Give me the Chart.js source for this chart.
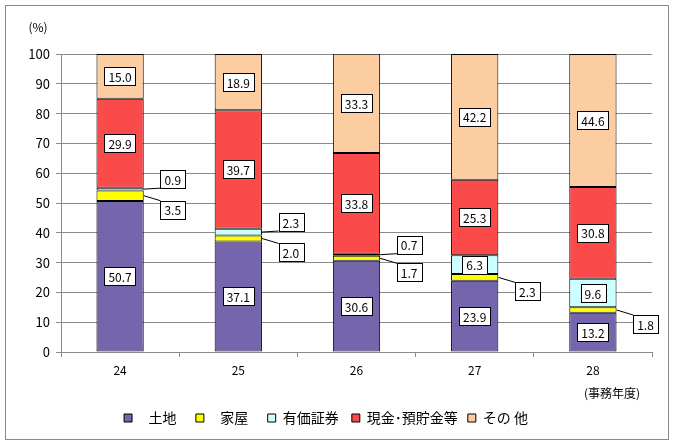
<!DOCTYPE html>
<html>
<head>
<meta charset="utf-8">
<script src="https://cdn.jsdelivr.net/npm/chart.js@4.4.1/dist/chart.umd.min.js"></script>
<style>
  body { margin: 0; background: #fff; }
  #wrap { width: 676px; height: 445px; }
</style>
</head>
<body>
<div id="wrap"><canvas id="c" width="676" height="445"></canvas></div>
<script>
// 事務年度
var years = ['24', '25', '26', '27', '28'];
var seriesNames = ['   土地   ', '   家屋   ', '有価証券 ', '現金･預貯金等', 'その 他'];
var land       = [50.7, 37.1, 30.6, 23.9, 13.2];
var house      = [3.5, 2.0, 1.7, 2.3, 1.8];
var securities = [0.9, 2.3, 0.7, 6.3, 9.6];
var cash       = [29.9, 39.7, 33.8, 25.3, 30.8];
var other      = [15.0, 18.9, 33.3, 42.2, 44.6];
var yTicks = [0, 10, 20, 30, 40, 50, 60, 70, 80, 90, 100];

var colors = ['#7565ad', '#ffff00', '#ccffff', '#fa4a4a', '#fdcda2'];
var font = '"Noto Sans CJK JP", "Liberation Sans", sans-serif';

// small values get a label outside the bar with a leader line
var outsideLimit = 3.6;
var outsideShift = [0, 14, -10, 0, 0];

var labelPlugin = {
  id: 'boxLabels',
  beforeDraw: function(chart) {
    var ctx = chart.ctx;
    ctx.save();
    ctx.strokeStyle = '#8a8a8a';
    ctx.lineWidth = 1;
    ctx.strokeRect(5.5, 5.5, 663, 434);
    ctx.fillStyle = '#000';
    ctx.font = '12px ' + font;
    ctx.textAlign = 'center';
    ctx.textBaseline = 'middle';
    ctx.fillText('(%)', 38, 27);
    ctx.fillText('(事務年度)', 612, 393);
    ctx.restore();
  },
  afterDatasetsDraw: function(chart) {
    var ctx = chart.ctx;
    ctx.save();
    ctx.font = '12px ' + font;
    ctx.textAlign = 'center';
    ctx.textBaseline = 'middle';
    chart.data.datasets.forEach(function(ds, di) {
      var meta = chart.getDatasetMeta(di);
      meta.data.forEach(function(bar, i) {
        var v = ds.data[i];
        var txt = v.toFixed(1);
        var cy = (bar.y + bar.base) / 2;
        var cx = bar.x;
        var w = ctx.measureText(txt).width + 8;
        var h = 18;
        if (v < outsideLimit) {
          var edge = bar.x + bar.width / 2;
          cx = edge + 29;
          var ly = cy + outsideShift[di];
          ctx.strokeStyle = '#000';
          ctx.lineWidth = 1;
          ctx.beginPath();
          ctx.moveTo(edge, cy);
          ctx.lineTo(cx - w / 2, ly + (outsideShift[di] > 0 ? -h / 2 : h / 2));
          ctx.stroke();
          cy = ly;
        }
        ctx.fillStyle = '#fff';
        ctx.fillRect(Math.round(cx - w / 2) + 0.5, Math.round(cy - h / 2) + 0.5, Math.round(w), h);
        ctx.strokeStyle = '#000';
        ctx.lineWidth = 1;
        ctx.strokeRect(Math.round(cx - w / 2) + 0.5, Math.round(cy - h / 2) + 0.5, Math.round(w), h);
        ctx.fillStyle = '#000';
        ctx.fillText(txt, cx, cy + 1);
      });
    });
    ctx.restore();
  }
};

var seriesData = [land, house, securities, cash, other];
var datasets = seriesData.map(function(d, i) {
  return {
    label: seriesNames[i],
    data: d,
    backgroundColor: colors[i],
    borderColor: '#000',
    borderWidth: 1,
    borderSkipped: false,
    categoryPercentage: 1,
    barPercentage: 0.4
  };
});

new Chart(document.getElementById('c'), {
  type: 'bar',
  data: { labels: years, datasets: datasets },
  options: {
    responsive: false,
    animation: false,
    devicePixelRatio: 1,
    layout: { padding: { top: 54, right: 24, bottom: 10, left: 0 } },
    plugins: {
      legend: {
        position: 'bottom',
        labels: {
          boxWidth: 8,
          boxHeight: 8,
          padding: 10,
          color: '#000',
          font: { family: font, size: 14 },
          generateLabels: function(chart) {
            return chart.data.datasets.map(function(ds, i) {
              return { text: ds.label, fillStyle: colors[i], strokeStyle: '#000', lineWidth: 1, datasetIndex: i };
            });
          }
        }
      },
      tooltip: { enabled: false }
    },
    scales: {
      x: {
        stacked: true,
        grid: { offset: true, drawOnChartArea: false, color: '#8a8a8a', tickLength: 5 },
        border: { color: '#8a8a8a' },
        ticks: { color: '#000', font: { family: font, size: 12 }, padding: 6 },
        afterFit: function(s) { s.height = 49; }
      },
      y: {
        stacked: true,
        min: 0,
        max: 100,
        afterBuildTicks: function(s) { s.ticks = yTicks.map(function(v) { return { value: v }; }); },
        grid: { color: '#8a8a8a', tickLength: 5 },
        border: { color: '#8a8a8a' },
        ticks: { color: '#000', font: { family: font, size: 13 }, padding: 6 },
        afterFit: function(s) { s.width = 61; }
      }
    }
  },
  plugins: [labelPlugin]
});
</script>
</body>
</html>
